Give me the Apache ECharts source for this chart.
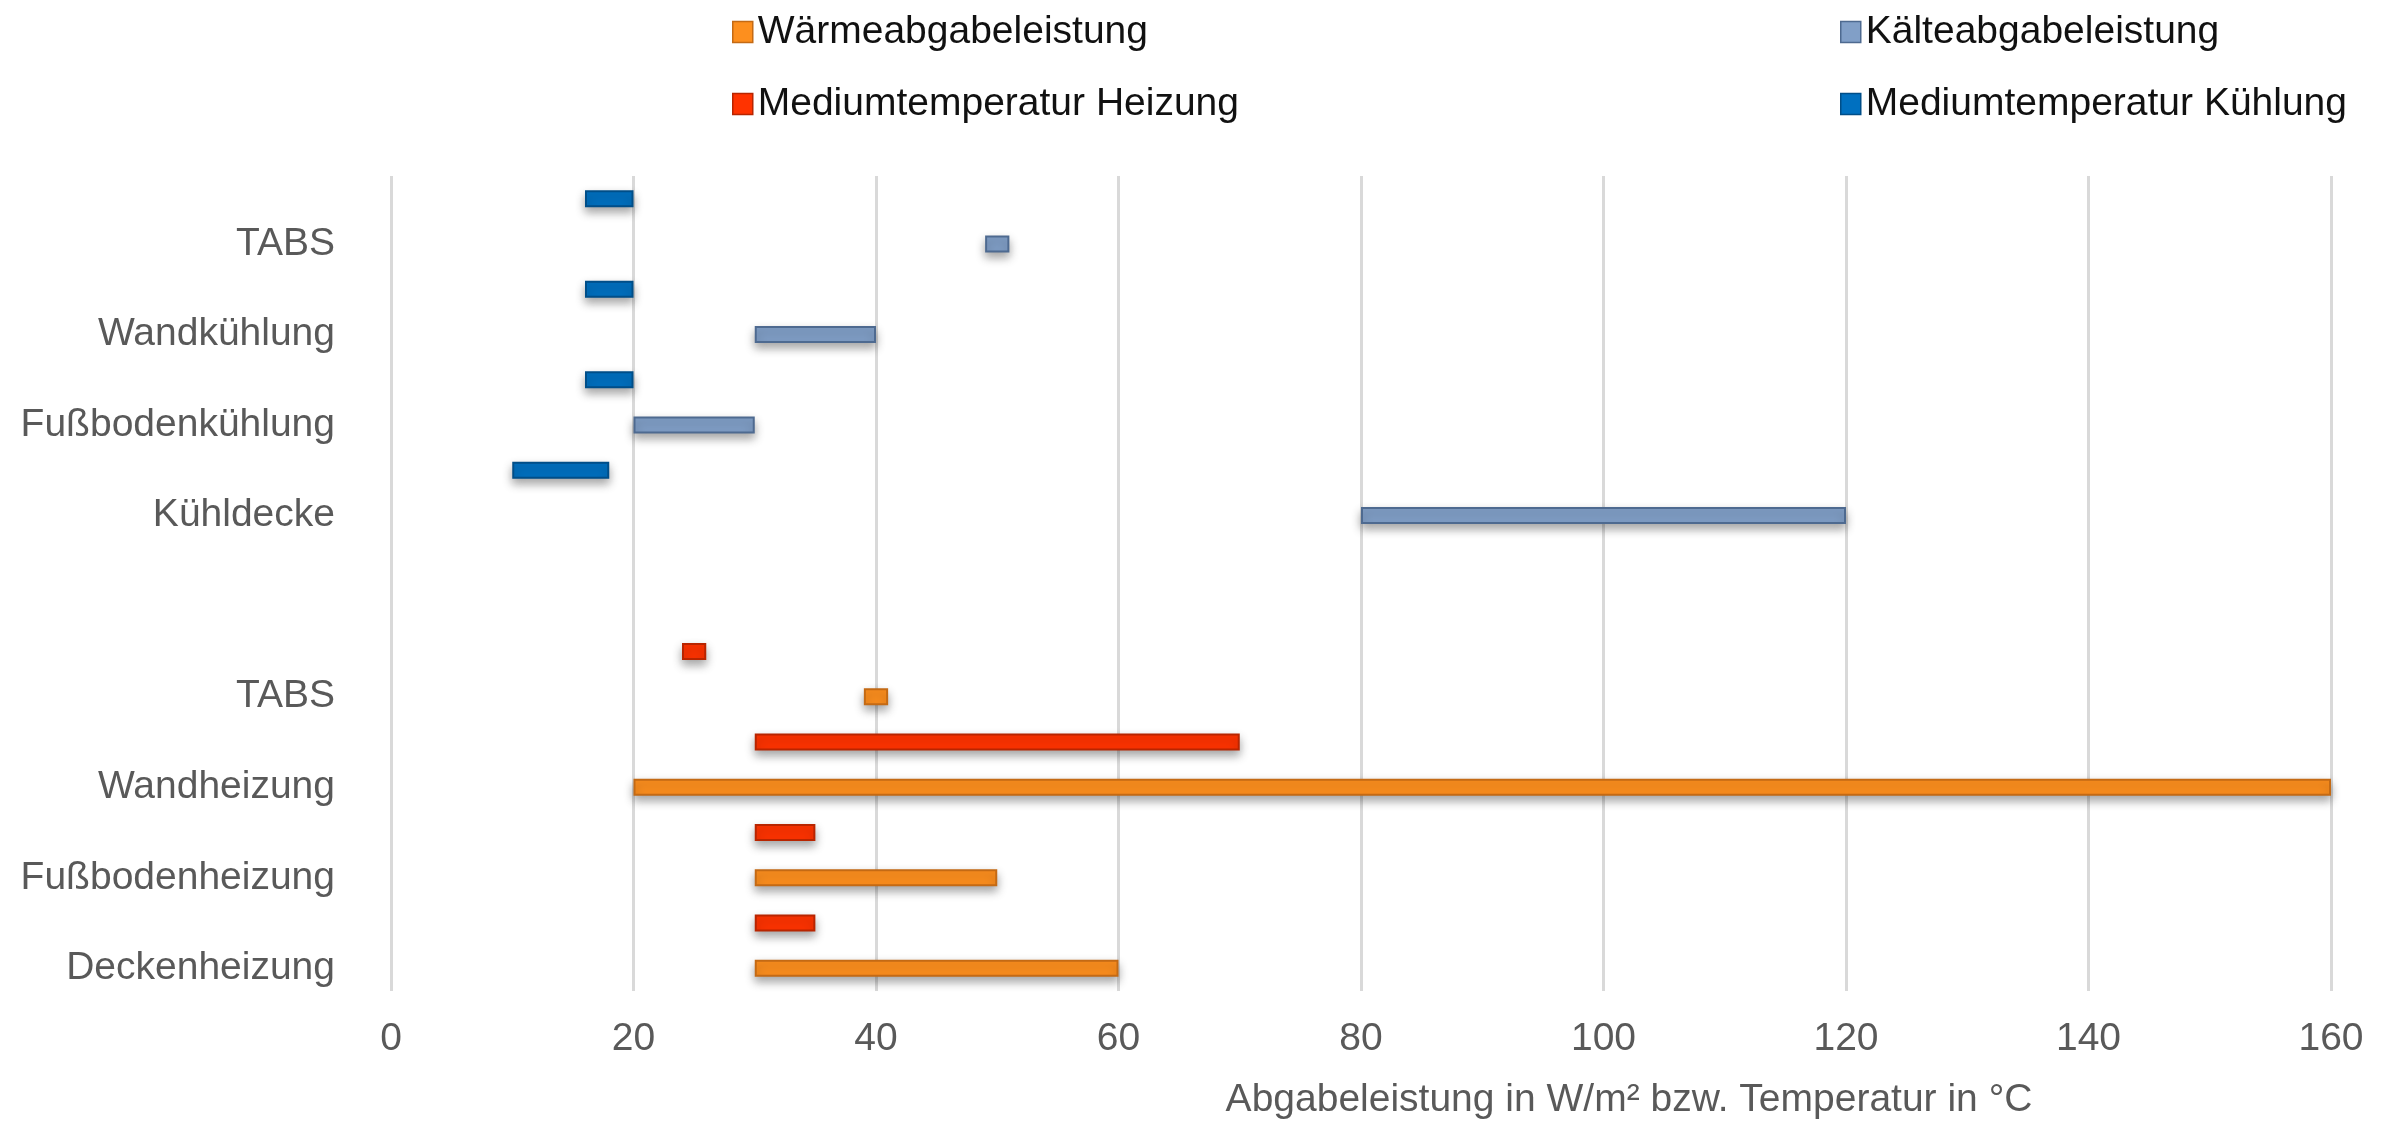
<!DOCTYPE html>
<html>
<head>
<meta charset="utf-8">
<title>Abgabeleistung und Mediumtemperatur</title>
<script src="https://cdn.jsdelivr.net/npm/echarts@6/dist/echarts.min.js"></script>
<style>
  html, body { margin: 0; padding: 0; background: #ffffff; }
  #chart { width: 2389px; height: 1125px; }
</style>
</head>
<body>
<div id="chart"></div>
<script>
// Rows are listed bottom to top, as the category axis stacks them.
const heatingRows = ['Deckenheizung', 'Fußbodenheizung', 'Wandheizung', 'TABS'];
const coolingRows = ['Kühldecke', 'Fußbodenkühlung', 'Wandkühlung', 'TABS'];

// [von, bis] ranges per row
const heatOutput = [[30, 60], [30, 50], [20, 160], [39, 41]];   // Wärmeabgabeleistung W/m²
const heatMedium = [[30, 35], [30, 35], [30, 70], [24, 26]];    // Mediumtemperatur Heizung °C
const coolOutput = [[80, 120], [20, 30], [30, 40], [49, 51]];   // Kälteabgabeleistung W/m²
const coolMedium = [[10, 18], [16, 20], [16, 20], [16, 20]];    // Mediumtemperatur Kühlung °C

const seriesNames = ['Wärmeabgabeleistung', 'Kälteabgabeleistung', 'Mediumtemperatur Heizung', 'Mediumtemperatur Kühlung'];
const xTicks = { min: 0, max: 160, interval: 20 };

const FONT = "'Liberation Sans', Arial, sans-serif";
const FONT_SIZE = 39;

// Each row takes two slots on the axis: the output bar (labelled) and the
// medium temperature bar just above it. An empty row separates heating and cooling.
const slotLabels = [];
const base = [];
const sWarm = [], sCold = [], sMedHeat = [], sMedCool = [];

function pushSlot(label, range, target) {
  slotLabels.push(label);
  const all = [sWarm, sCold, sMedHeat, sMedCool];
  if (range) {
    base.push(range[0]);
    all.forEach(a => a.push(a === target ? range[1] - range[0] : '-'));
  } else {
    base.push('-');
    all.forEach(a => a.push('-'));
  }
}

heatingRows.forEach((name, i) => {
  pushSlot(name, heatOutput[i], sWarm);
  pushSlot('', heatMedium[i], sMedHeat);
});
pushSlot('', null, null);
pushSlot('', null, null);
coolingRows.forEach((name, i) => {
  pushSlot(name, coolOutput[i], sCold);
  pushSlot('', coolMedium[i], sMedCool);
});

const shadow = { shadowColor: 'rgba(0,0,0,0.35)', shadowBlur: 10, shadowOffsetY: 5 };

function rangeSeries(name, data, fill, border) {
  return {
    name: name,
    type: 'bar',
    stack: 'range',
    barWidth: 17,
    data: data,
    itemStyle: Object.assign({ color: fill, borderColor: border, borderWidth: 2 }, shadow),
    emphasis: { disabled: true }
  };
}

const legendCommon = {
  orient: 'vertical',
  icon: 'rect',
  padding: 0,
  itemWidth: 20,
  itemHeight: 21,
  itemGap: 32,
  selectedMode: false,
  itemStyle: { shadowBlur: 0, shadowOffsetY: 0, borderWidth: 1.5 },
  textStyle: { fontFamily: FONT, fontSize: FONT_SIZE, color: '#111111', lineHeight: 40 }
};

const chart = echarts.init(document.getElementById('chart'), null, { renderer: 'canvas' });
chart.setOption({
  animation: false,
  backgroundColor: '#ffffff',
  legend: [
    Object.assign({ left: 732, top: 12, data: [seriesNames[0], seriesNames[2]] }, legendCommon),
    Object.assign({ left: 1840, top: 12, data: [seriesNames[1], seriesNames[3]] }, legendCommon)
  ],
  grid: { left: 391, right: 58, top: 176, bottom: 126, containLabel: false },
  xAxis: {
    type: 'value',
    min: xTicks.min,
    max: xTicks.max,
    interval: xTicks.interval,
    name: 'Abgabeleistung in W/m² bzw. Temperatur in °C',
    nameLocation: 'middle',
    nameGap: 90,
    nameTextStyle: { fontFamily: FONT, fontSize: FONT_SIZE, color: '#595959', padding: [0, 0, 0, 536] },
    axisLine: { show: false },
    axisTick: { show: false },
    axisLabel: { fontFamily: FONT, fontSize: FONT_SIZE, color: '#595959', margin: 29 },
    splitLine: { show: true, lineStyle: { color: '#D9D9D9', width: 3 } }
  },
  yAxis: {
    type: 'category',
    data: slotLabels,
    axisLine: { show: false },
    axisTick: { show: false },
    splitLine: { show: false },
    axisLabel: { interval: 0, fontFamily: FONT, fontSize: FONT_SIZE, color: '#595959', margin: 56 }
  },
  series: [
    {
      name: 'base',
      type: 'bar',
      stack: 'range',
      barWidth: 17,
      data: base,
      silent: true,
      itemStyle: { color: 'transparent', borderWidth: 0 },
      emphasis: { disabled: true }
    },
    rangeSeries(seriesNames[0], sWarm, '#FD8F1E', '#C46A14'),
    rangeSeries(seriesNames[1], sCold, '#819FC7', '#4E6A90'),
    rangeSeries(seriesNames[2], sMedHeat, '#FF3300', '#B82500'),
    rangeSeries(seriesNames[3], sMedCool, '#0070C0', '#004E88')
  ]
});
</script>
</body>
</html>
